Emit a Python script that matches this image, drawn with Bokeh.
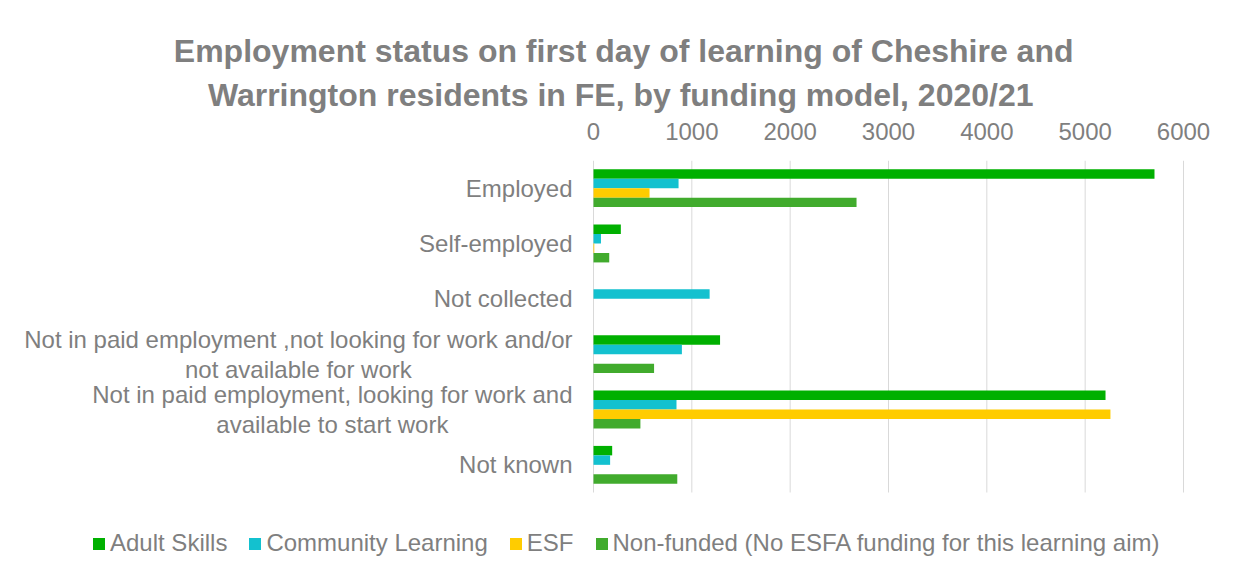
from bokeh.plotting import figure
from bokeh.models import (ColumnDataSource, Range1d, Legend, LegendItem,
                          FixedTicker, Title)
from bokeh.transform import dodge
from bokeh.core.properties import value
from bokeh.embed import file_html
from bokeh.resources import INLINE

# ---- data ----
categories = [
    "Employed",
    "Self-employed",
    "Not collected",
    "Not in paid employment ,not looking for work and/or\nnot available for work",
    "Not in paid employment, looking for work and\navailable to start work",
    "Not known",
]
series_names = ["Adult Skills", "Community Learning", "ESF",
                "Non-funded (No ESFA funding for this learning aim)"]
adult_skills = [5705, 278, 0, 1287, 5207, 190]
community_learning = [865, 76, 1181, 899, 844, 169]
esf = [570, 8, 0, 0, 5257, 0]
non_funded = [2675, 160, 0, 616, 477, 852]
x_ticks = [0, 1000, 2000, 3000, 4000, 5000, 6000]
title_lines = ["Employment status on first day of learning of Cheshire and",
               "Warrington residents in FE, by funding model, 2020/21"]

# ---- styling / layout ----
FONT = "Liberation Sans"
GREY = "#7f7f7f"
colors = ["#00b000", "#13c1cf", "#ffcc00", "#41ab2d"]
bar_h = 0.171
offsets = [1.5 * bar_h, 0.5 * bar_h, -0.5 * bar_h, -1.5 * bar_h]

W, H = 1236, 575
# frame spans the full width; the value axis (0..6000) occupies pixels 593..1183
px0, px1 = 593.0, 1183.0
per_px = 6000.0 / (px1 - px0)
x_start = -px0 * per_px
x_end = 6000 + (W - px1) * per_px
n = len(categories)
# category bands 0..n (top band = first category); extra room below for the legend
ypos = [n - 1 - i + 0.5 for i in range(n)]
y_bottom_room = 1.5

source = ColumnDataSource(dict(cat=categories, ypos=ypos, s0=adult_skills,
                               s1=community_learning, s2=esf, s3=non_funded,
                               zero=[0] * n))
grid_src = ColumnDataSource(dict(t=x_ticks, y0=[0] * len(x_ticks), y1=[n] * len(x_ticks)))

p = figure(width=W, height=H, output_backend="svg", toolbar_location=None,
           y_range=Range1d(-y_bottom_room, n), x_range=Range1d(x_start, x_end),
           x_axis_location="above",
           min_border_left=0, min_border_right=0,
           min_border_top=160, min_border_bottom=0)
p.outline_line_color = None
p.background_fill_color = "white"
p.border_fill_color = "white"
p.xgrid.grid_line_color = None
p.ygrid.grid_line_color = None
p.yaxis.visible = False

# vertical gridlines limited to the category area
p.segment(x0="t", x1="t", y0="y0", y1="y1", source=grid_src,
          line_color="#d9d9d9", line_width=1)

renderers = []
for i, key in enumerate(["s0", "s1", "s2", "s3"]):
    r = p.hbar(y=dodge("ypos", offsets[i]), right=key, left=0,
               height=bar_h, source=source, color=colors[i], line_color=None)
    renderers.append(r)

# category labels: right-anchored block with centred lines, left of the zero line
p.text(x="zero", y="ypos", text="cat", source=source, x_offset=-21,
       anchor="center_right", text_align="center",
       text_font=value(FONT), text_font_size="24px", text_color=GREY,
       text_line_height=1.1)

# x axis on top
xa = p.xaxis[0]
xa.ticker = FixedTicker(ticks=x_ticks)
xa.axis_line_color = None
xa.major_tick_line_color = None
xa.minor_tick_line_color = None
xa.major_label_text_font = FONT
xa.major_label_text_font_size = "24px"
xa.major_label_text_color = GREY
xa.major_label_standoff = 15

# two-line title (second line nearest the plot)
for txt, so, off in [(title_lines[1], 13, 203), (title_lines[0], 0, 163)]:
    p.add_layout(Title(text=txt, align="right", offset=off, text_font=FONT,
                       text_font_size="32px", text_font_style="bold",
                       text_color=GREY, standoff=so), "above")

legend = Legend(items=[LegendItem(label=nm, renderers=[r]) for nm, r in zip(series_names, renderers)],
                orientation="horizontal", location=(91, 18),
                glyph_width=15, glyph_height=15, label_standoff=4, spacing=20,
                padding=0, margin=0, border_line_color=None, background_fill_alpha=0,
                label_text_font=FONT, label_text_font_size="24px", label_text_color=GREY)
p.add_layout(legend)

open("out.html", "w").write(file_html(p, INLINE))
